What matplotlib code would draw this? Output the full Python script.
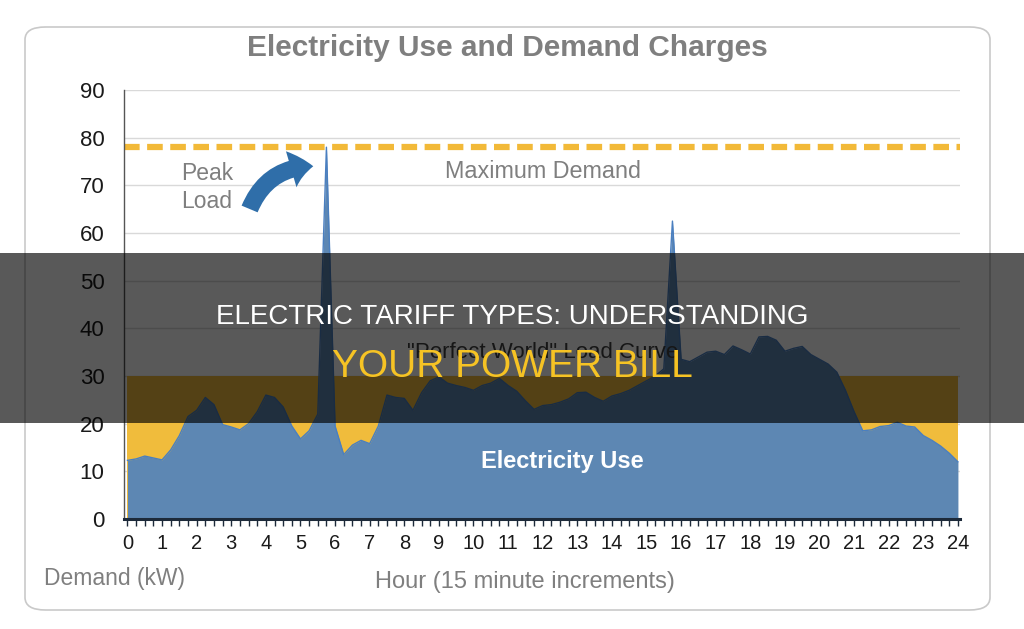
import numpy as np
import matplotlib.pyplot as plt
from matplotlib import font_manager
from matplotlib.patches import FancyBboxPatch, FancyArrowPatch, Rectangle

# demand, one value per 15 minutes from 0:00 to 24:00
demand_kw = [
    12.3, 12.6, 13.2, 12.8, 12.4, 14.5, 17.5, 21.5,
    22.8, 25.5, 24.0, 19.8, 19.3, 18.7, 20.0, 22.5,
    26.0, 25.5, 23.5, 19.5, 16.8, 18.5, 22.0, 78.0,
    19.5, 13.5, 15.5, 16.5, 15.8, 19.5, 26.0, 25.5,
    25.3, 22.8, 26.5, 29.0, 29.8, 28.5, 28.0, 27.6,
    27.0, 28.0, 28.5, 29.5, 28.0, 26.8, 24.8, 23.0,
    23.8, 24.0, 24.5, 25.2, 26.5, 26.6, 25.5, 24.7,
    25.8, 26.3, 27.0, 28.0, 29.0, 30.0, 31.5, 62.5,
    33.5, 33.0, 34.0, 35.0, 35.2, 34.5, 36.3, 35.5,
    34.6, 38.2, 38.3, 37.5, 35.2, 35.8, 36.2, 34.5,
    33.5, 32.5, 30.8, 27.0, 22.5, 18.5, 18.7, 19.4,
    19.6, 20.3, 19.5, 19.3, 17.5, 16.5, 15.3, 13.8,
    12.0,
]
hours = np.arange(len(demand_kw)) * 0.25
perfect_world = 30
max_demand = 78
hour_ticks = list(range(0, 25))
kw_ticks = list(range(0, 100, 10))

installed = {f.name for f in font_manager.fontManager.ttflist}
narrow = "Liberation Sans Narrow" if "Liberation Sans Narrow" in installed else "Liberation Sans"
plt.rcParams["font.family"] = [narrow, "DejaVu Sans"]

fig = plt.figure(figsize=(10.24, 6.29), dpi=100)
fig.patch.set_facecolor("white")

# rounded card behind the chart
card = FancyBboxPatch((25 / 1024, 1 - 610 / 629), 965 / 1024, 583 / 629,
                      boxstyle="round,pad=0,rounding_size=0.02",
                      transform=fig.transFigure, facecolor="white",
                      edgecolor="#c9c9c9", linewidth=1.2, zorder=-1)
fig.patches.append(card)

ax = fig.add_axes([124 / 1024, 110 / 629, 836 / 1024, 429 / 629])
ax.set_facecolor("none")
ax.set_xlim(-0.1, 24.06)
ax.set_ylim(0, 90)

for v in kw_ticks[1:]:
    ax.axhline(v, color="#d9d9d9", linewidth=1.0, zorder=0)

ax.fill_between([0, 24], 0, perfect_world, color="#f0bc3c", linewidth=0, zorder=1)
ax.fill_between(hours, 0, demand_kw, color="#5d87b3", linewidth=0, zorder=2)
ax.plot(hours, demand_kw, color="#4a7fc0", linewidth=1.0, zorder=3)
ax.axhline(max_demand, color="#f2b938", linewidth=4.5, dashes=(2.5, 1.2),
           zorder=2.5)

for side in ["top", "right"]:
    ax.spines[side].set_visible(False)
ax.spines["left"].set_color("#555555")
ax.spines["left"].set_linewidth(1.0)
ax.spines["bottom"].set_color("#1d2a3a")
ax.spines["bottom"].set_linewidth(2.2)
ax.spines["bottom"].set_zorder(4)

ax.set_xticks(hour_ticks)
ax.set_xticks(hours, minor=True)
ax.set_yticks(kw_ticks)
ax.tick_params(axis="x", which="both", direction="out", length=5, width=1,
               color="#1d2a3a", labelsize=14.5, labelcolor="#1a1a1a", pad=6)
ax.tick_params(axis="y", length=0, labelsize=16, labelcolor="#1a1a1a", pad=14)

ax.text(12.0, 73, "Maximum Demand", color="#7f7f7f", fontsize=16.8,
        ha="center", va="center", zorder=5)
ax.text(1.56, 69.6, "Peak\nLoad", color="#7f7f7f", fontsize=16.5,
        ha="left", va="center", linespacing=1.3, zorder=5)
ax.text(12.0, 35, "\"Perfect World\" Load Curve", color="#404040", fontsize=16,
        ha="center", va="center", zorder=5)
ax.text(12.57, 12, "Electricity Use", color="white", fontsize=17,
        fontweight="bold", ha="center", va="center", zorder=5)

arrow = FancyArrowPatch((3.5, 64.5), (5.45, 74.0),
                        connectionstyle="arc3,rad=-0.35",
                        arrowstyle="simple,head_width=2.7,head_length=1.6,tail_width=1.25",
                        mutation_scale=10, color="#2f6ea9", linewidth=0, zorder=5)
ax.add_patch(arrow)

fig.text(507 / 1024, 1 - 48 / 629, "Electricity Use and Demand Charges",
         color="#7f7f7f", fontsize=21.5, fontweight="bold", ha="center", va="center")
fig.text(115 / 1024, 1 - 578 / 629, "Demand (kW)", color="#7f7f7f",
         fontsize=16.5, ha="center", va="center")
fig.text(525 / 1024, 1 - 582 / 629, "Hour (15 minute increments)",
         color="#7f7f7f", fontsize=17, ha="center", va="center")

# dark caption band across the middle
band = Rectangle((0, 1 - 423 / 629), 1, 170 / 629, transform=fig.transFigure,
                 facecolor="black", alpha=0.65, edgecolor="none", zorder=10)
fig.patches.append(band)
fig.text(0.5, 1 - 317 / 629, "ELECTRIC TARIFF TYPES: UNDERSTANDING",
         family=["Liberation Sans", "DejaVu Sans"], color="white", fontsize=20,
         ha="center", va="center", zorder=11)
fig.text(0.5, 1 - 367 / 629, "YOUR POWER BILL",
         family=["Liberation Sans", "DejaVu Sans"], color="#f6c324", fontsize=28,
         ha="center", va="center", zorder=11)

fig.savefig("out.png", dpi=100)
